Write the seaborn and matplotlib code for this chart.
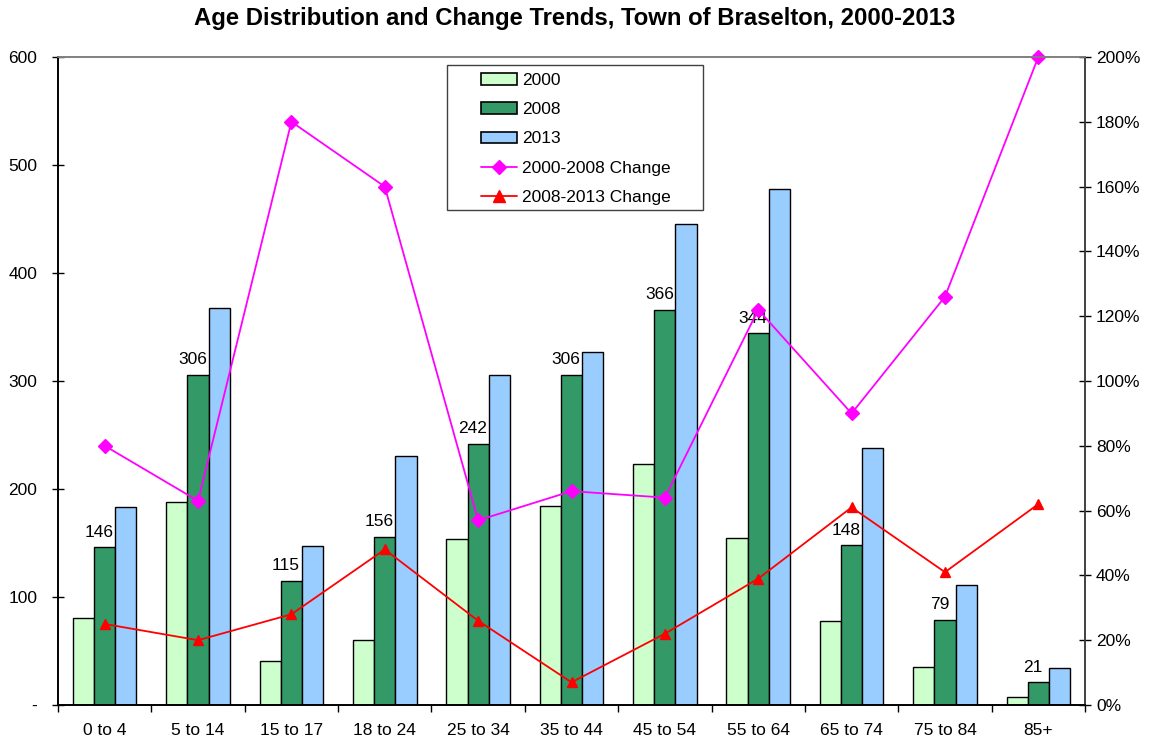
import numpy as np
import pandas as pd
import matplotlib
matplotlib.use("Agg")
import matplotlib.pyplot as plt
from matplotlib.ticker import FixedLocator, FuncFormatter, MultipleLocator
from matplotlib.patches import Patch, Rectangle
from matplotlib.lines import Line2D
import seaborn as sns

categories = ["0 to 4", "5 to 14", "15 to 17", "18 to 24", "25 to 34", "35 to 44",
              "45 to 54", "55 to 64", "65 to 74", "75 to 84", "85+"]
pop_2000 = [81, 188, 41, 60, 154, 184, 223, 155, 78, 35, 7]
pop_2008 = [146, 306, 115, 156, 242, 306, 366, 344, 148, 79, 21]
pop_2013 = [183, 368, 147, 231, 306, 327, 445, 478, 238, 111, 34]
chg_00_08 = [80, 63, 180, 160, 57, 66, 64, 122, 90, 126, 200]
chg_08_13 = [25, 20, 28, 48, 26, 7, 22, 39, 61, 41, 62]

year_labels = ["2000", "2008", "2013"]
change_labels = ["2000-2008 Change", "2008-2013 Change"]
bar_colors = ["#CCFFCC", "#339966", "#99CCFF"]
line_colors = ["#FF00FF", "#FF0000"]

sns.set_theme(style="white")
plt.rcParams["font.family"] = ["Liberation Sans", "DejaVu Sans"]
plt.rcParams["text.color"] = "black"
plt.rcParams["axes.labelcolor"] = "black"
plt.rcParams["xtick.color"] = "black"
plt.rcParams["ytick.color"] = "black"

FS = 12.5

bars_df = pd.DataFrame({
    "cat": categories * 3,
    "value": pop_2000 + pop_2008 + pop_2013,
    "year": sum([[y] * len(categories) for y in year_labels], []),
})
lines_df = pd.DataFrame({
    "cat": categories * 2,
    "pct": chg_00_08 + chg_08_13,
    "series": sum([[s] * len(categories) for s in change_labels], []),
})

fig = plt.figure(figsize=(11.49, 7.40), dpi=100)
ax = fig.add_axes([58 / 1149, 1 - 705 / 740, (1085 - 58) / 1149, (705 - 57) / 740])

sns.barplot(data=bars_df, x="cat", y="value", hue="year", order=categories,
            hue_order=year_labels, palette=bar_colors, width=0.68,
            edgecolor="black", linewidth=1.0, ax=ax, legend=False, saturation=1)

ax.set_xlim(-0.5, len(categories) - 0.5)
ax.set_ylim(0, 600)
ax.yaxis.set_major_locator(MultipleLocator(100))
ax.yaxis.set_major_formatter(FuncFormatter(lambda v, p: "-" if v == 0 else f"{int(v)}"))
ax.set_xlabel("")
ax.set_ylabel("")

# value labels on 2008 bars
for i, v in enumerate(pop_2008):
    ax.annotate(str(v), xy=(i, v), xytext=(-4, 7.5), textcoords="offset points",
                ha="center", va="baseline", fontsize=FS, color="black")

ax2 = ax.twinx()
sns.pointplot(data=lines_df, x="cat", y="pct", hue="series", order=categories,
              hue_order=change_labels, palette=line_colors, markers=["D", "^"],
              linestyles=["-", "-"], errorbar=None, ax=ax2, legend=False,
              markersize=7.5, linewidth=1.3)
ax2.set_xlim(-0.5, len(categories) - 0.5)
ax2.set_ylim(0, 200)
ax2.yaxis.set_major_locator(MultipleLocator(20))
ax2.yaxis.set_major_formatter(FuncFormatter(lambda v, p: f"{int(v)}%"))
ax2.set_ylabel("")
ax2.set_xlabel("")
for coll in ax2.collections:
    coll.set_clip_on(False)
for ln in ax2.lines:
    ln.set_clip_on(False)

# spines and ticks
for a in (ax, ax2):
    a.spines["top"].set_visible(True)
    a.spines["top"].set_color("#808080")
    a.spines["top"].set_linewidth(1.2)
    a.spines["left"].set_color("black")
    a.spines["bottom"].set_color("black")
    a.spines["right"].set_color("#404040")
    for s in ("left", "right", "bottom"):
        a.spines[s].set_linewidth(1.2)
ax.tick_params(axis="y", direction="inout", length=8, width=1, colors="black",
               labelsize=FS, pad=11, left=True)
ax2.tick_params(axis="y", direction="inout", length=8, width=1, colors="black",
                labelsize=FS, pad=4, right=True)
ax.xaxis.set_minor_locator(FixedLocator(np.arange(-0.5, len(categories), 1.0)))
ax.tick_params(axis="x", which="major", length=0, labelsize=FS, pad=13)
ax.tick_params(axis="x", which="minor", direction="out", length=5, width=1,
               color="black", bottom=True)
ax.set_xticks(range(len(categories)))
ax.set_xticklabels(categories)

fig.text(0.5, 1 - 18 / 740, "Age Distribution and Change Trends, Town of Braselton, 2000-2013",
         ha="center", va="center", fontsize=17.2, fontweight="bold")

# legend: frame drawn as a rectangle, entries indented like the reference
frame_x0 = (447 - 58) / 1027
frame_x1 = (703 - 58) / 1027
frame_y0 = (705 - 210) / 648
frame_y1 = (705 - 65) / 648
ax2.add_patch(Rectangle((frame_x0, frame_y0), frame_x1 - frame_x0, frame_y1 - frame_y0,
                        transform=ax2.transAxes, facecolor="white", edgecolor="#404040",
                        linewidth=1.0, zorder=4, clip_on=False))

handles = [Patch(facecolor=c, edgecolor="black", linewidth=1.2) for c in bar_colors]
handles += [Line2D([0], [0], color=line_colors[0], marker="D", markersize=7.5, lw=1.3),
            Line2D([0], [0], color=line_colors[1], marker="^", markersize=8.5, lw=1.3)]
labels = year_labels + change_labels
leg = ax2.legend(handles, labels, loc="upper left",
                 bbox_to_anchor=((481 - 58) / 1027, (705 - 73) / 648),
                 frameon=False, fontsize=FS, handlelength=2.1, handleheight=0.65,
                 labelspacing=0.82, borderpad=0, handletextpad=0.25, borderaxespad=0)
leg.set_zorder(5)

fig.savefig("out.png", dpi=100, facecolor="white")
